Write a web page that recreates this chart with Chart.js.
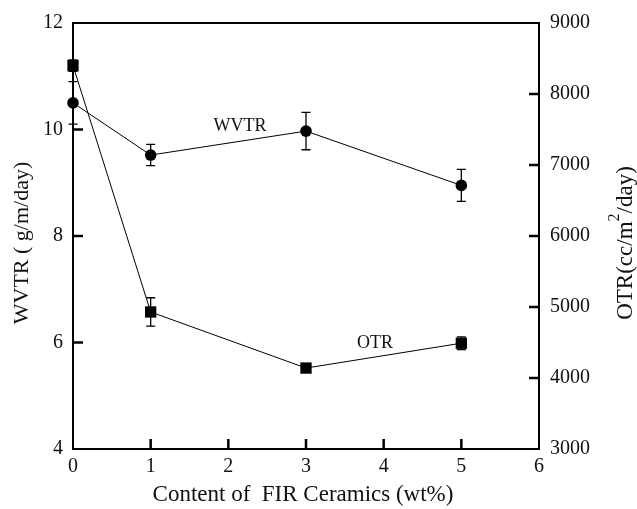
<!DOCTYPE html>
<html>
<head>
<meta charset="utf-8">
<script src="https://cdn.jsdelivr.net/npm/chart.js@4/dist/chart.umd.min.js"></script>
<style>
  html, body { margin: 0; padding: 0; background: #fff; }
  #wrap { width: 637px; height: 509px; }
</style>
</head>
<body>
<div id="wrap"><canvas id="chart" width="637" height="509"></canvas></div>
<script>
// data
const ceramicContent = [0, 1, 3, 5];
const wvtrValues = [10.5, 9.52, 9.97, 8.95];
const wvtrErrors = [0.4, 0.2, 0.35, 0.3];
const otrValues = [8400, 4930, 4140, 4490];
const otrErrors = [80, 200, 40, 90];

const xTicks = [0, 1, 2, 3, 4, 5, 6];
const leftTicks = [4, 6, 8, 10, 12];
const rightTicks = [3000, 4000, 5000, 6000, 7000, 8000, 9000];

const serif = 'Liberation Serif';

// inward ticks, frame, error bars, titles and in-plot labels
const decorPlugin = {
  id: 'decor',
  beforeDatasetsDraw(chart) {
    const ctx = chart.ctx;
    const x = chart.scales.x, y = chart.scales.y, y2 = chart.scales.y2;
    ctx.save();
    ctx.strokeStyle = '#000';
    ctx.lineWidth = 1.3;
    const cap = 4.5;
    const bars = (vals, errs, scale) => {
      vals.forEach((v, i) => {
        const px = x.getPixelForValue(ceramicContent[i]);
        const top = scale.getPixelForValue(v + errs[i]);
        const bot = scale.getPixelForValue(v - errs[i]);
        ctx.beginPath();
        ctx.moveTo(px, top); ctx.lineTo(px, bot);
        ctx.moveTo(px - cap, top); ctx.lineTo(px + cap, top);
        ctx.moveTo(px - cap, bot); ctx.lineTo(px + cap, bot);
        ctx.stroke();
      });
    };
    bars(wvtrValues, wvtrErrors, y);
    bars(otrValues, otrErrors, y2);
    ctx.restore();
  },
  afterDraw(chart) {
    const ctx = chart.ctx;
    const a = chart.chartArea;
    const x = chart.scales.x, y = chart.scales.y, y2 = chart.scales.y2;
    ctx.save();
    ctx.strokeStyle = '#000';
    ctx.lineWidth = 2;
    ctx.strokeRect(a.left, a.top, a.right - a.left, a.bottom - a.top);

    ctx.lineWidth = 2.5;
    ctx.beginPath();
    xTicks.slice(1, -1).forEach(v => {
      const px = x.getPixelForValue(v);
      ctx.moveTo(px, a.bottom); ctx.lineTo(px, a.bottom - 10);
    });
    leftTicks.slice(1, -1).forEach(v => {
      const py = y.getPixelForValue(v);
      ctx.moveTo(a.left, py); ctx.lineTo(a.left + 10, py);
    });
    rightTicks.slice(1, -1).forEach(v => {
      const py = y2.getPixelForValue(v);
      ctx.moveTo(a.right, py); ctx.lineTo(a.right - 10, py);
    });
    ctx.stroke();

    ctx.fillStyle = '#111';
    ctx.textAlign = 'center';
    ctx.textBaseline = 'middle';

    // series labels inside the plot
    ctx.font = '18px "' + serif + '"';
    ctx.fillText('WVTR', x.getPixelForValue(2.15), y.getPixelForValue(10.07));
    ctx.fillText('OTR', x.getPixelForValue(3.89), y2.getPixelForValue(4490));

    // axis titles
    ctx.font = '23px "' + serif + '"';
    ctx.fillText('Content of  FIR Ceramics (wt%)', 303, 495);

    ctx.save();
    ctx.translate(22, 243);
    ctx.rotate(-Math.PI / 2);
    ctx.font = '22px "' + serif + '"';
    ctx.fillText('WVTR ( g/m/day)', 0, 0);
    ctx.restore();

    ctx.save();
    ctx.translate(626, 243);
    ctx.rotate(-Math.PI / 2);
    ctx.textAlign = 'left';
    const big = '23px "' + serif + '"', small = '16px "' + serif + '"';
    const p1 = 'OTR(cc/m', p2 = '/day)';
    ctx.font = big;
    const w1 = ctx.measureText(p1).width;
    const w2 = ctx.measureText(p2).width;
    ctx.font = small;
    const wSup = ctx.measureText('2').width;
    let sx = -(w1 + wSup + w2) / 2;
    ctx.font = big;
    ctx.fillText(p1, sx, 0);
    sx += w1;
    ctx.font = small;
    ctx.fillText('2', sx, -11);
    sx += wSup;
    ctx.font = big;
    ctx.fillText(p2, sx, 0);
    ctx.restore();

    ctx.restore();
  }
};

const tickFont = { family: serif, size: 20 };

new Chart(document.getElementById('chart'), {
  type: 'line',
  data: {
    datasets: [
      {
        label: 'WVTR',
        data: ceramicContent.map((c, i) => ({ x: c, y: wvtrValues[i] })),
        yAxisID: 'y',
        clip: false,
        borderColor: '#000',
        borderWidth: 1,
        backgroundColor: '#000',
        pointStyle: 'circle',
        pointRadius: 5.8,
        pointBorderWidth: 0
      },
      {
        label: 'OTR',
        data: ceramicContent.map((c, i) => ({ x: c, y: otrValues[i] })),
        yAxisID: 'y2',
        clip: false,
        borderColor: '#000',
        borderWidth: 1,
        backgroundColor: '#000',
        pointStyle: 'rect',
        pointRadius: 8,
        pointBorderWidth: 0
      }
    ]
  },
  options: {
    responsive: false,
    animation: false,
    layout: { padding: { top: 22, left: 0, right: 0, bottom: 0 } },
    plugins: { legend: { display: false }, tooltip: { enabled: false } },
    scales: {
      x: {
        type: 'linear',
        min: 0, max: 6,
        afterBuildTicks: s => { s.ticks = xTicks.map(v => ({ value: v })); },
        ticks: { font: tickFont, color: '#111', padding: 6, maxRotation: 0, callback: v => String(v) },
        grid: { display: false, drawTicks: false },
        border: { display: false },
        afterFit: s => { s.height = 60; }
      },
      y: {
        position: 'left',
        min: 4, max: 12,
        afterBuildTicks: s => { s.ticks = leftTicks.map(v => ({ value: v })); },
        ticks: { font: tickFont, color: '#111', padding: 10, callback: v => String(v) },
        grid: { display: false, drawTicks: false },
        border: { display: false },
        afterFit: s => { s.width = 73; }
      },
      y2: {
        position: 'right',
        min: 3000, max: 9000,
        afterBuildTicks: s => { s.ticks = rightTicks.map(v => ({ value: v })); },
        ticks: { font: tickFont, color: '#111', padding: 11, callback: v => String(v) },
        grid: { display: false, drawTicks: false },
        border: { display: false },
        afterFit: s => { s.width = 98; }
      }
    }
  },
  plugins: [decorPlugin]
});
</script>
</body>
</html>
